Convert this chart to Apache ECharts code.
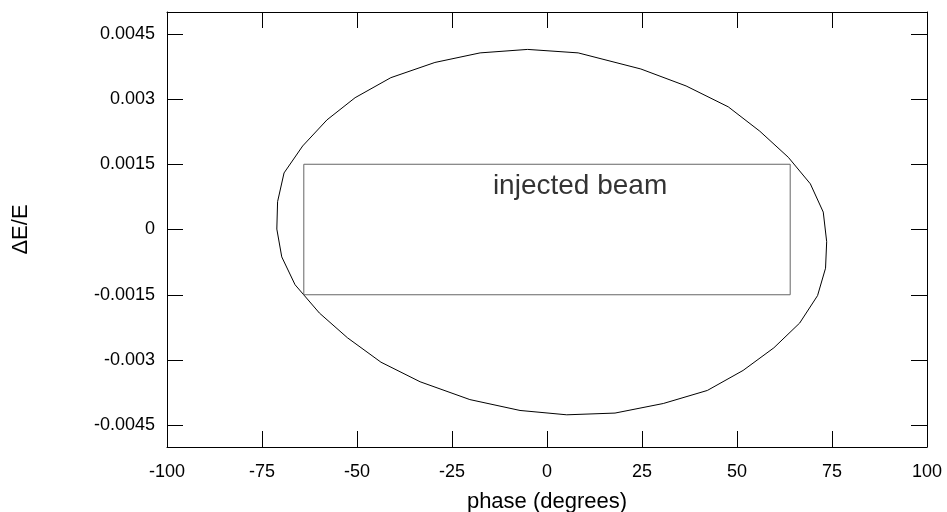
<!DOCTYPE html>
<html>
<head>
<meta charset="utf-8">
<title>phase space acceptance</title>
<script src="https://cdn.jsdelivr.net/npm/echarts@6/dist/echarts.min.js"></script>
<style>
  html, body { margin: 0; padding: 0; background: #fff; }
  #chart { width: 947px; height: 512px; }
</style>
</head>
<body>
<div id="chart"></div>
<script>
// 分离线（椭圆）上的点：相位 (deg) 和 ΔE/E
const sepPhase = [
    -71.1, -70.9, -69.2, -64.3, -57.9, -50.5, -41.1, -29.5, -17.6, -5.1,
    8.2, 24.7, 36.6, 47.7, 56.0, 63.5, 69.3, 72.7, 73.6, 73.3,
    71.2, 66.5, 59.7, 51.6, 42.2, 30.6, 17.9, 5.2, -7.1, -20.3,
    -33.4, -43.7, -52.5, -59.9, -66.3, -69.8, -71.1
];
const sepDE = [
    0.00001, 0.00064, 0.00130, 0.00192, 0.00252, 0.00303, 0.00349, 0.00384, 0.00406, 0.00414,
    0.00406, 0.00369, 0.00330, 0.00282, 0.00226, 0.00166, 0.00105, 0.00040, -0.00028, -0.00089,
    -0.00152, -0.00215, -0.00272, -0.00324, -0.00370, -0.00400, -0.00422, -0.00426, -0.00416, -0.00391,
    -0.00350, -0.00305, -0.00249, -0.00192, -0.00127, -0.00063, 0.00001
];

// 注入束流的矩形
const beamPhase = [-64, 64, 64, -64, -64];
const beamDE = [0.0015, 0.0015, -0.0015, -0.0015, 0.0015];

// 刻度
const yTicks = [-0.0045, -0.003, -0.0015, 0, 0.0015, 0.003, 0.0045];
const yTickLabels = ['-0.0045', '-0.003', '-0.0015', '0', '0.0015', '0.003', '0.0045'];

const beamLabel = { text: 'injected beam', x: 8.7, y: 0.00100 };

const chart = echarts.init(document.getElementById('chart'), null, { renderer: 'canvas' });

const FONT = 'Liberation Sans, Arial, Helvetica, sans-serif';
const axisLine = { show: true, onZero: false, lineStyle: { color: '#000', width: 1 } };
const tick = { show: true, inside: true, length: 16, lineStyle: { color: '#000', width: 1 } };

const xBase = {
    type: 'value', min: -100, max: 100, interval: 25,
    axisLine: axisLine, axisTick: tick, splitLine: { show: false }
};
const yBase = {
    type: 'value', min: -0.005, max: 0.005,
    axisLine: axisLine,
    axisTick: Object.assign({}, tick, { customValues: yTicks }),
    splitLine: { show: false }
};

chart.setOption({
    animation: false,
    backgroundColor: '#fff',
    // 不让 v6 自动收缩网格
    grid: { left: 167, right: 20, top: 12, bottom: 65, containLabel: false, outerBoundsMode: 'none' },
    xAxis: [
        Object.assign({}, xBase, {
            position: 'bottom',
            name: 'phase (degrees)',
            nameLocation: 'middle',
            nameGap: 44,
            nameTextStyle: { fontFamily: FONT, fontSize: 22, color: '#000' },
            axisLabel: { fontFamily: FONT, fontSize: 18, color: '#000', margin: 16 }
        }),
        Object.assign({}, xBase, { position: 'top', axisLabel: { show: false } })
    ],
    yAxis: [
        Object.assign({}, yBase, {
            position: 'left',
            name: 'ΔE/E',
            nameLocation: 'middle',
            nameGap: 135,
            nameTextStyle: { fontFamily: FONT, fontSize: 22, color: '#000' },
            axisLabel: {
                fontFamily: FONT, fontSize: 18, color: '#000', margin: 12,
                customValues: yTicks,
                formatter: v => {
                    const i = yTicks.findIndex(t => Math.abs(t - v) < 1e-9);
                    return i >= 0 ? yTickLabels[i] : '';
                }
            }
        }),
        Object.assign({}, yBase, { position: 'right', axisLabel: { show: false } })
    ],
    series: [
        {
            type: 'line',
            data: sepPhase.map((p, i) => [p, sepDE[i]]),
            symbol: 'none',
            lineStyle: { color: '#000', width: 1 },
            silent: true
        },
        {
            type: 'line',
            data: beamPhase.map((p, i) => [p, beamDE[i]]),
            symbol: 'none',
            lineStyle: { color: '#666', width: 1 },
            silent: true
        },
        {
            type: 'scatter',
            data: [[beamLabel.x, beamLabel.y]],
            symbolSize: 0,
            silent: true,
            label: {
                show: true,
                position: 'inside',
                formatter: beamLabel.text,
                fontFamily: FONT,
                fontSize: 28,
                color: '#000'
            }
        }
    ]
});
</script>
</body>
</html>
